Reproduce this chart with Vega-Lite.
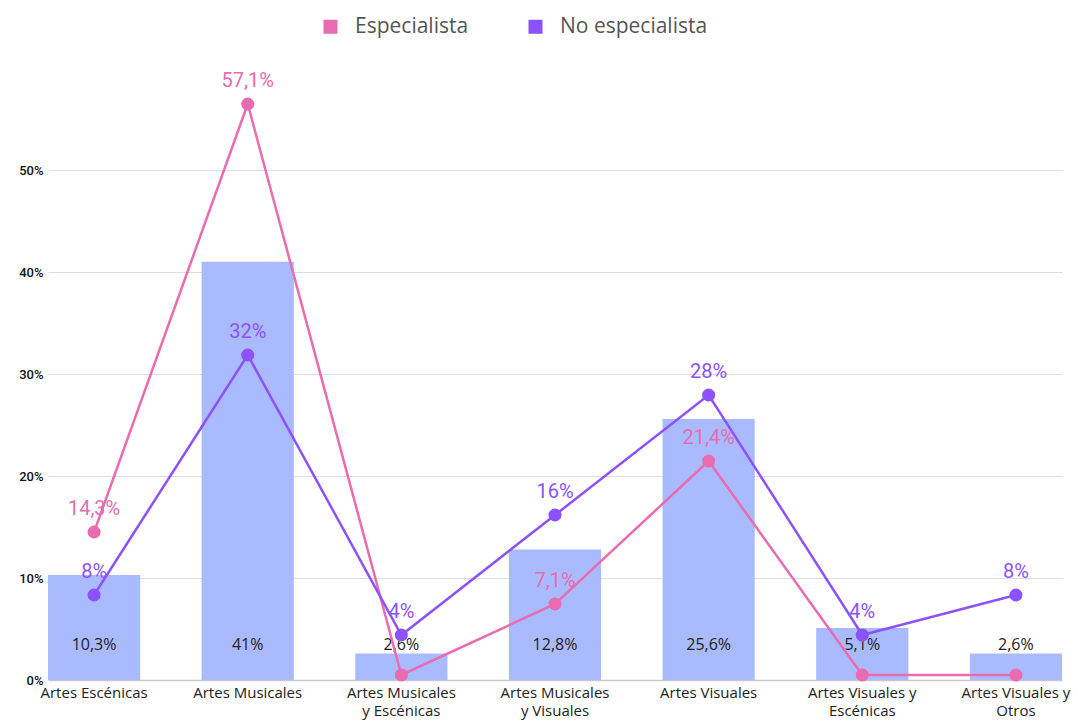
{
  "$schema": "https://vega.github.io/schema/vega-lite/v6.json",
  "width": 1014,
  "height": 612,
  "autosize": {"type": "none"},
  "padding": {"left": 48, "top": 68, "right": 16, "bottom": 41},
  "background": "white",
  "config": {
    "view": {"stroke": null},
    "locale": {"number": {"decimal": ",", "thousands": ".", "grouping": [3], "currency": ["", " €"]}}
  },
  "datasets": {
    "bars": [
      {"categoria": "Artes Escénicas", "total": 0.103},
      {"categoria": "Artes Musicales", "total": 0.41},
      {"categoria": "Artes Musicales y Escénicas", "total": 0.026},
      {"categoria": "Artes  Musicales y Visuales", "total": 0.128},
      {"categoria": "Artes Visuales", "total": 0.256},
      {"categoria": "Artes Visuales y Escénicas", "total": 0.051},
      {"categoria": "Artes Visuales y Otros", "total": 0.026}
    ],
    "lines": [
      {"categoria": "Artes Escénicas", "serie": "Especialista", "valor": 0.143},
      {"categoria": "Artes Musicales", "serie": "Especialista", "valor": 0.571},
      {"categoria": "Artes Musicales y Escénicas", "serie": "Especialista", "valor": 0},
      {"categoria": "Artes  Musicales y Visuales", "serie": "Especialista", "valor": 0.071},
      {"categoria": "Artes Visuales", "serie": "Especialista", "valor": 0.214},
      {"categoria": "Artes Visuales y Escénicas", "serie": "Especialista", "valor": 0},
      {"categoria": "Artes Visuales y Otros", "serie": "Especialista", "valor": 0},
      {"categoria": "Artes Escénicas", "serie": "No especialista", "valor": 0.08},
      {"categoria": "Artes Musicales", "serie": "No especialista", "valor": 0.32},
      {"categoria": "Artes Musicales y Escénicas", "serie": "No especialista", "valor": 0.04},
      {"categoria": "Artes  Musicales y Visuales", "serie": "No especialista", "valor": 0.16},
      {"categoria": "Artes Visuales", "serie": "No especialista", "valor": 0.28},
      {"categoria": "Artes Visuales y Escénicas", "serie": "No especialista", "valor": 0.04},
      {"categoria": "Artes Visuales y Otros", "serie": "No especialista", "valor": 0.08}
    ]
  },
  "encoding": {
    "x": {
      "field": "categoria",
      "type": "nominal",
      "sort": null,
      "scale": {"paddingInner": 0.4, "paddingOuter": 0},
      "axis": {
        "title": null,
        "labelAngle": 0,
        "ticks": false,
        "domainColor": "#c8c8c8",
        "domainWidth": 1.5,
        "labelFont": "Open Sans",
        "labelFontSize": 15,
        "labelColor": "#222222",
        "labelPadding": 5,
        "labelLineHeight": 18,
        "labelBaseline": "top",
        "labelExpr": "datum.label == 'Artes Musicales y Escénicas' ? ['Artes Musicales', 'y Escénicas'] : datum.label == 'Artes  Musicales y Visuales' ? ['Artes  Musicales', 'y Visuales'] : datum.label == 'Artes Visuales y Escénicas' ? ['Artes Visuales y', 'Escénicas'] : datum.label == 'Artes Visuales y Otros' ? ['Artes Visuales y', 'Otros'] : datum.label"
      }
    }
  },
  "layer": [
    {
      "data": {"name": "bars"},
      "layer": [
        {
          "mark": {"type": "bar", "color": "#aabaff"},
          "encoding": {
            "y": {
              "field": "total",
              "type": "quantitative",
              "scale": {"domain": [0, 0.6], "nice": false},
              "axis": {
                "title": null,
                "values": [0, 0.1, 0.2, 0.3, 0.4, 0.5],
                "format": ".0%",
                "domain": false,
                "ticks": false,
                "gridColor": "#dddddd",
                "labelFont": "Roboto",
                "labelFontSize": 13,
                "labelFontWeight": 500,
                "labelColor": "#111111",
                "labelPadding": 5
              }
            }
          }
        },
        {
          "mark": {"type": "text", "font": "Open Sans", "fontSize": 16, "color": "#222222", "baseline": "middle"},
          "encoding": {
            "y": {"datum": 0.034, "type": "quantitative"},
            "text": {"field": "total", "type": "quantitative", "format": ".1~%"}
          }
        }
      ]
    },
    {
      "data": {"name": "lines"},
      "encoding": {
        "y": {
          "field": "valor",
          "type": "quantitative",
          "scale": {"domain": [-0.005, 0.607], "nice": false, "zero": false},
          "axis": null
        },
        "color": {
          "field": "serie",
          "type": "nominal",
          "scale": {"domain": ["Especialista", "No especialista"], "range": ["#e96bb0", "#8c52ff"]},
          "legend": {
            "title": null,
            "orient": "none",
            "direction": "horizontal",
            "legendX": 272,
            "legendY": -52,
            "symbolType": "square",
            "symbolSize": 196,
            "symbolStrokeWidth": 0,
            "symbolOpacity": 1,
            "labelFont": "Open Sans",
            "labelFontSize": 21,
            "labelColor": "#555555",
            "labelOffset": 14,
            "columnPadding": 56
          }
        }
      },
      "layer": [
        {"mark": {"type": "line", "strokeWidth": 2.5}},
        {"mark": {"type": "point", "filled": true, "size": 170, "opacity": 1}},
        {
          "transform": [{"filter": "datum.valor > 0"}],
          "mark": {"type": "text", "dy": -23, "font": "Roboto", "fontSize": 20},
          "encoding": {
            "text": {"field": "valor", "type": "quantitative", "format": ".1~%"}
          }
        }
      ]
    }
  ],
  "resolve": {"scale": {"y": "independent"}}
}
